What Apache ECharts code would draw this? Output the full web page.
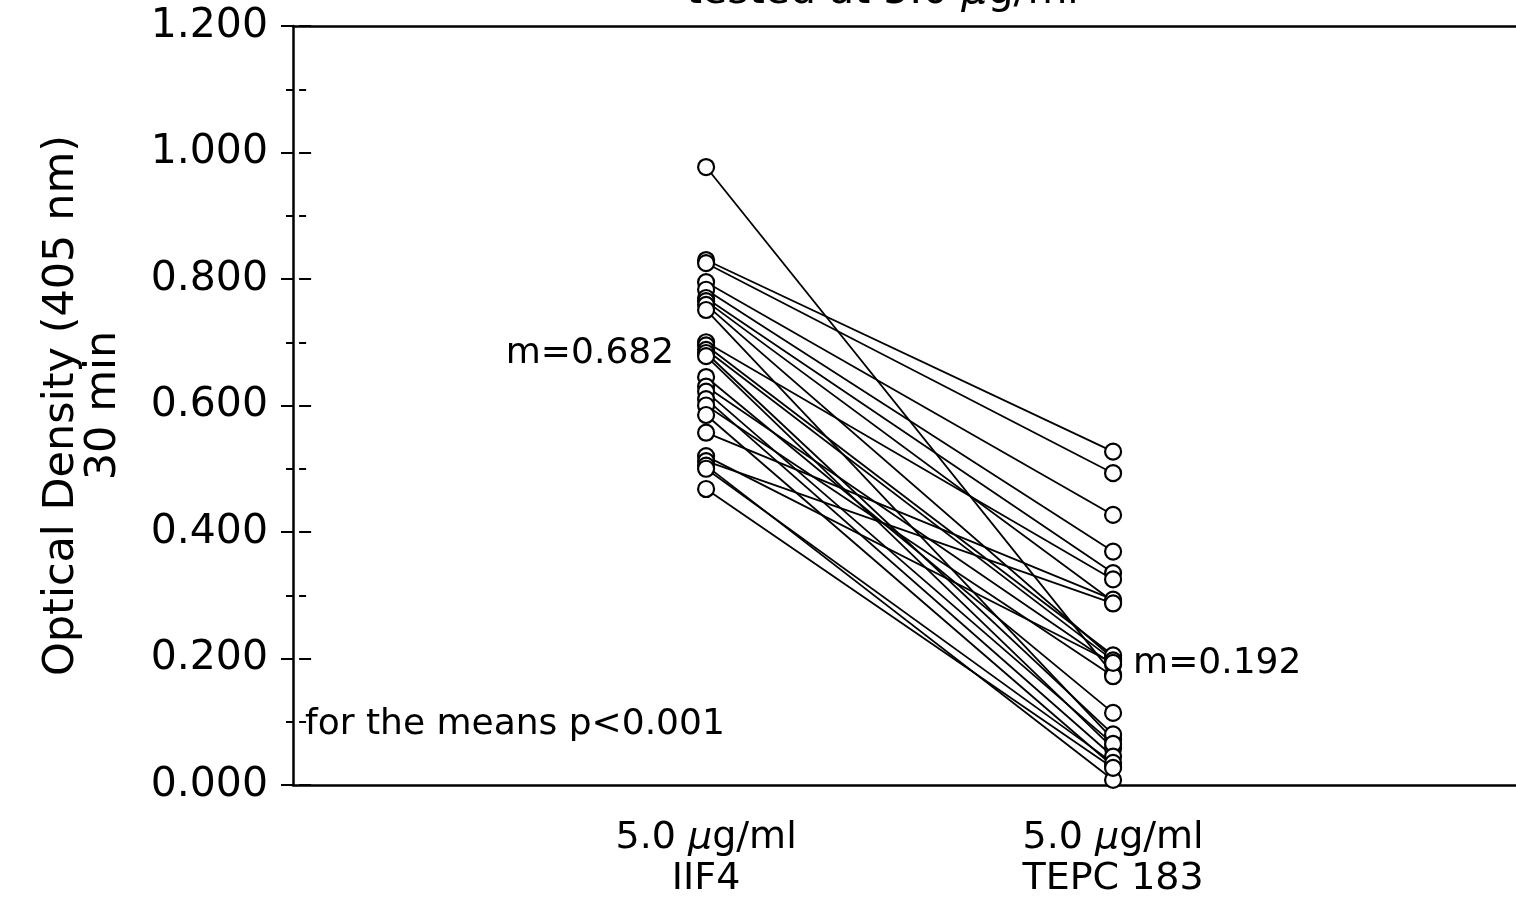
<!DOCTYPE html>
<html>
<head>
<meta charset="utf-8">
<title>Optical density, IIF4 vs TEPC 183</title>
<script src="https://cdn.jsdelivr.net/npm/echarts@6/dist/echarts.min.js"></script>
<style>
  html, body { margin: 0; padding: 0; background: #fff; }
  #chart { width: 1516px; height: 901px; }
</style>
</head>
<body>
<div id="chart"></div>
<script>
// x position of each group and its label
const groupX = [1, 2];
const groupLabels = ['{n|5.0 }{mu|μ}{n|g/ml}\n{n|IIF4}', '{n|5.0 }{mu|μ}{n|g/ml}\n{n|TEPC 183}'];

// paired OD values, one pair per sample
const iif4Values = [0.977, 0.830, 0.825, 0.795, 0.783, 0.770, 0.765, 0.759, 0.751,
    0.700, 0.695, 0.688, 0.683, 0.678, 0.645, 0.630, 0.622, 0.610, 0.600,
    0.585, 0.557, 0.520, 0.512, 0.505, 0.500, 0.468];
const tepcValues = [0.175, 0.527, 0.493, 0.427, 0.369, 0.335, 0.290, 0.200, 0.072,
    0.325, 0.205, 0.197, 0.080, 0.058, 0.114, 0.190, 0.065, 0.045, 0.172,
    0.030, 0.293, 0.193, 0.287, 0.008, 0.035, 0.027];

// group means
const meanValues = [0.682, 0.192];
const meanLabels = ['m=0.682', 'm=0.192'];

const yTicks = [0, 1.2, 0.2];
const font = 'DejaVu Sans';

const chart = echarts.init(document.getElementById('chart'));

const pairSeries = iif4Values.map((v, i) => ({
    type: 'line',
    silent: true,
    symbol: 'none',
    lineStyle: { color: '#000', width: 1.8 },
    data: [[groupX[0], v], [groupX[1], tepcValues[i]]],
    z: 2
}));

const yAxisBase = {
    type: 'value',
    position: 'left',
    min: yTicks[0],
    max: yTicks[1],
    interval: yTicks[2],
    splitLine: { show: false },
    minorTick: { show: true, splitNumber: 2, length: 7, lineStyle: { color: '#000', width: 2 } },
    axisTick: { show: true, length: 12, lineStyle: { color: '#000', width: 2 } }
};

chart.setOption({
    animation: false,
    backgroundColor: '#fff',
    grid: { left: 293, right: 0, top: 26, bottom: 116, containLabel: false },
    xAxis: [{
        type: 'value',
        min: -0.015,
        max: 2.99,
        position: 'bottom',
        splitLine: { show: false },
        axisTick: { show: false },
        axisLine: { onZero: false, lineStyle: { color: '#000', width: 2.5 } },
        axisLabel: {
            customValues: groupX,
            margin: 33,
            lineHeight: 40,
            formatter: v => groupLabels[groupX.indexOf(v)] || '',
            rich: {
                n: { fontFamily: font, fontSize: 38, color: '#000', lineHeight: 41 },
                mu: { fontFamily: font, fontSize: 38, fontStyle: 'italic', color: '#000', lineHeight: 41 }
            }
        }
    }, {
        type: 'value',
        min: -0.015,
        max: 2.99,
        position: 'top',
        splitLine: { show: false },
        axisTick: { show: false },
        axisLabel: { show: false },
        axisLine: { onZero: false, lineStyle: { color: '#000', width: 2.5 } }
    }],
    yAxis: [Object.assign({}, yAxisBase, {
        axisLine: { show: true, onZero: false, lineStyle: { color: '#000', width: 2.5 } },
        axisLabel: {
            margin: 25,
            fontFamily: font,
            fontSize: 41,
            color: '#000',
            formatter: v => v.toFixed(3)
        },
        name: 'Optical Density (405 nm)\n30 min',
        nameLocation: 'middle',
        nameRotate: 90,
        nameGap: 168,
        nameTextStyle: { fontFamily: font, fontSize: 43, color: '#000', lineHeight: 42, align: 'center' }
    }), Object.assign({}, yAxisBase, {
        axisLine: { show: false },
        axisLabel: { show: false },
        axisTick: Object.assign({}, yAxisBase.axisTick, { inside: true }),
        minorTick: Object.assign({}, yAxisBase.minorTick, { inside: true })
    })],
    graphic: [{
        type: 'text',
        left: 305,
        top: 707,
        style: { text: 'for the means p<0.001', font: '36px "DejaVu Sans"', fill: '#000' }
    }, {
        type: 'text',
        left: 686,
        top: -28,
        style: {
            text: '{n|tested at 5.0 }{mu|μ}{n|g/ml}',
            rich: {
                n: { fontFamily: font, fontSize: 41, fill: '#000' },
                mu: { fontFamily: font, fontSize: 41, fontStyle: 'italic', fill: '#000' }
            }
        }
    }],
    series: pairSeries.concat([{
        type: 'scatter',
        silent: true,
        symbol: 'circle',
        symbolSize: 16,
        itemStyle: { color: '#fff', borderColor: '#000', borderWidth: 2.2, opacity: 1 },
        data: iif4Values.map(v => [groupX[0], v]).concat(tepcValues.map(v => [groupX[1], v])),
        z: 3
    }, {
        type: 'scatter',
        silent: true,
        symbolSize: 0,
        itemStyle: { color: 'transparent', opacity: 1 },
        label: {
            show: true,
            fontFamily: font,
            fontSize: 36,
            color: '#000',
            formatter: p => meanLabels[p.dataIndex]
        },
        data: [
            { value: [groupX[0], meanValues[0]], label: { position: 'left', distance: 32 } },
            { value: [groupX[1], meanValues[1]], label: { position: 'right', distance: 20 } }
        ],
        z: 4
    }])
});
</script>
</body>
</html>
